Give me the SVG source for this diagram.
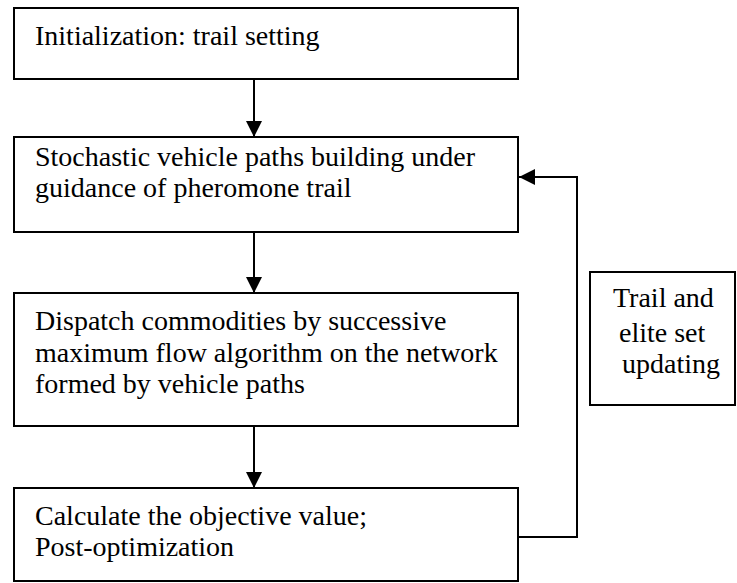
<svg xmlns="http://www.w3.org/2000/svg" width="737" height="583" viewBox="0 0 737 583">
<style>
.box{fill:#fff;stroke:#000;stroke-width:2}
.t{font-family:'Liberation Serif','DejaVu Serif',serif;font-size:28px;fill:#000}
.c{fill:none;stroke:#000;stroke-width:2}
</style>
<defs>
<marker id="ah" markerUnits="userSpaceOnUse" markerWidth="16" markerHeight="16" viewBox="0 0 16 16" refX="16" refY="8" orient="auto">
<path d="M0,0 L16,8 L0,16 Z" fill="#000"/>
</marker>
</defs>
<rect width="737" height="583" fill="#fff"/>
<g id="connectors">
<line class="c" x1="254" y1="79" x2="254" y2="137" marker-end="url(#ah)"/>
<line class="c" x1="254" y1="232" x2="254" y2="293" marker-end="url(#ah)"/>
<line class="c" x1="254" y1="426" x2="254" y2="488" marker-end="url(#ah)"/>
<polyline class="c" points="518,537 577,537 577,177 519,177" marker-end="url(#ah)"/>
</g>
<g id="n1">
<rect class="box" x="14" y="8" width="504" height="71"/>
<text class="t" x="35" y="45">Initialization: trail setting</text>
</g>
<g id="n2">
<rect class="box" x="14" y="137" width="504" height="95"/>
<text class="t" x="35" y="166">Stochastic vehicle paths building under</text>
<text class="t" x="35" y="197">guidance of pheromone trail</text>
</g>
<g id="n3">
<rect class="box" x="14" y="293" width="504" height="133"/>
<text class="t" x="35" y="330">Dispatch commodities by successive</text>
<text class="t" x="35" y="362">maximum flow algorithm on the network</text>
<text class="t" x="35" y="393">formed by vehicle paths</text>
</g>
<g id="n4">
<rect class="box" x="14" y="488" width="504" height="93"/>
<text class="t" x="35" y="525">Calculate the objective value;</text>
<text class="t" x="35" y="556">Post-optimization</text>
</g>
<g id="n5">
<rect class="box" x="590" y="272" width="145" height="133"/>
<text class="t" x="613" y="307">Trail and</text>
<text class="t" x="619" y="342">elite set</text>
<text class="t" x="622" y="373">updating</text>
</g>
</svg>
